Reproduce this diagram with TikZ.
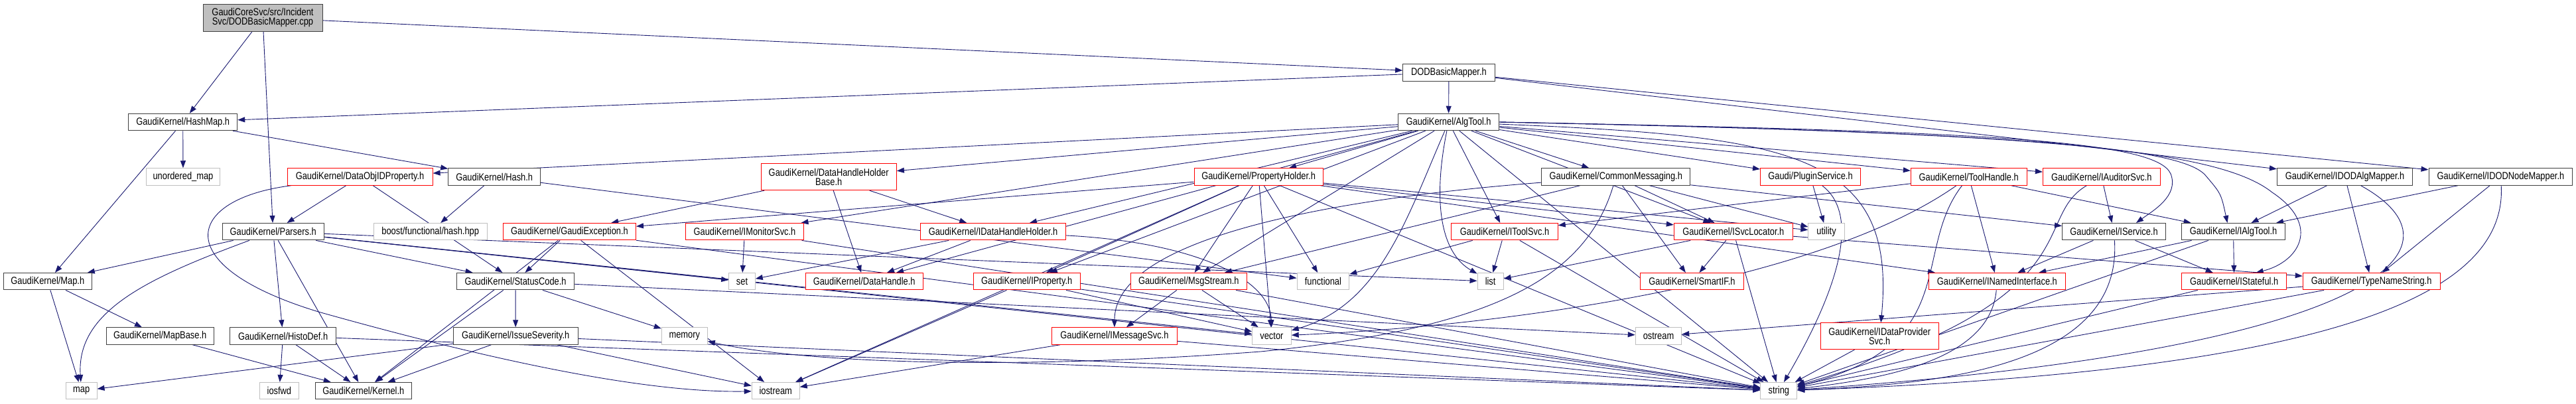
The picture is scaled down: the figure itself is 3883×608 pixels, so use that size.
\documentclass[tikz,border=0pt]{standalone}
\usepackage{fontspec}
\newfontfamily\dfont[FakeStretch=0.83]{Liberation Sans}
\usetikzlibrary{arrows.meta,backgrounds}
\definecolor{edgeblue}{RGB}{25,25,112}
\definecolor{sysgray}{RGB}{191,191,191}
\definecolor{truncred}{RGB}{255,0,0}
\definecolor{hdrgray}{RGB}{64,64,64}
\tikzset{
  box/.style={draw=hdrgray, line width=1pt, fill=white, inner xsep=2pt, inner ysep=0pt,
    minimum height=25.5pt, font=\dfont\fontsize{15.5}{14}\selectfont, align=center, text=black},
  hdr/.style={box},
  truncbox/.style={box, draw=truncred},
  sysbox/.style={box, draw=sysgray},
  rootbox/.style={box, fill=sysgray, minimum height=40.7pt},
  edge/.style={draw=edgeblue, line width=0.9pt, -{Triangle[length=11pt,width=8pt]}},
}
\begin{document}
\begin{tikzpicture}[x=1pt,y=-1pt]
\useasboundingbox (0,0) rectangle (3883,608);
% rank 1-2
\node[rootbox, minimum width=180pt] (root) at (396,26.7) {GaudiCoreSvc/src/Incident\\Svc/DODBasicMapper.cpp};
\node[hdr, minimum width=138.5pt] (dbmh) at (2183.9,109.3) {DODBasicMapper.h};
% rank 3
\node[hdr, minimum width=164pt] (hashmap) at (275.7,184) {GaudiKernel/HashMap.h};
\node[hdr, minimum width=152.4pt] (algtool) at (2183.6,184) {GaudiKernel/AlgTool.h};
% rank 4
\node[sysbox, minimum width=110.7pt] (umap) at (276,266.5) {unordered\_map};
\node[truncbox, minimum width=219pt] (doidp) at (542.6,266.5) {GaudiKernel/DataObjIDProperty.h};
\node[hdr, minimum width=139pt] (hash) at (745.2,266.5) {GaudiKernel/Hash.h};
\node[truncbox, minimum width=204.3pt, minimum height=40pt] (dhhb) at (1249.2,266.7) {GaudiKernel/DataHandleHolder\\Base.h};
\node[truncbox, minimum width=194pt] (propholder) at (1897.1,266.5) {GaudiKernel/PropertyHolder.h};
\node[hdr, minimum width=224pt] (commsg) at (2435.8,266.5) {GaudiKernel/CommonMessaging.h};
\node[truncbox, minimum width=151pt] (plugin) at (2729,266.5) {Gaudi/PluginService.h};
\node[truncbox, minimum width=174.7pt] (toolhandle) at (2967.7,266.5) {GaudiKernel/ToolHandle.h};
\node[truncbox, minimum width=176.8pt] (iaud) at (3167.8,266.5) {GaudiKernel/IAuditorSvc.h};
\node[hdr, minimum width=204.3pt] (idodalg) at (3534.6,266.5) {GaudiKernel/IDODAlgMapper.h};
\node[hdr, minimum width=216.8pt] (idodnode) at (3769.4,266.5) {GaudiKernel/IDODNodeMapper.h};
% rank 5
\node[hdr, minimum width=153pt] (parsers) at (411.7,349.2) {GaudiKernel/Parsers.h};
\node[sysbox, minimum width=171pt] (boosthash) at (648.7,349.2) {boost/functional/hash.hpp};
\node[truncbox, minimum width=200pt] (gexc) at (858.5,349.2) {GaudiKernel/GaudiException.h};
\node[truncbox, minimum width=178.9pt] (imon) at (1122.5,349.2) {GaudiKernel/IMonitorSvc.h};
\node[truncbox, minimum width=218.9pt] (idhh) at (1497,349.2) {GaudiKernel/IDataHandleHolder.h};
\node[truncbox, minimum width=160.4pt] (itoolsvc) at (2268,349.2) {GaudiKernel/IToolSvc.h};
\node[truncbox, minimum width=179pt] (isvcloc) at (2612.8,349.2) {GaudiKernel/ISvcLocator.h};
\node[sysbox, minimum width=54.3pt] (utility) at (2753,349.2) {utility};
\node[hdr, minimum width=156pt] (iservice) at (3186.5,349.2) {GaudiKernel/IService.h};
\node[hdr, minimum width=156.2pt] (ialgtool) at (3366.5,349.2) {GaudiKernel/IAlgTool.h};
% rank 6
\node[hdr, minimum width=133.4pt] (maph) at (71.8,424.2) {GaudiKernel/Map.h};
\node[hdr, minimum width=177.6pt] (statuscode) at (777.1,424.2) {GaudiKernel/StatusCode.h};
\node[sysbox, minimum width=39.6pt] (set) at (1118.5,424.2) {set};
\node[truncbox, minimum width=177.3pt] (datahandle) at (1302.7,424.2) {GaudiKernel/DataHandle.h};
\node[truncbox, minimum width=161.2pt] (iprop) at (1547.7,424.2) {GaudiKernel/IProperty.h};
\node[truncbox, minimum width=174.7pt] (msgstream) at (1791.8,424.2) {GaudiKernel/MsgStream.h};
\node[sysbox, minimum width=78.7pt] (functional) at (1994.4,424.2) {functional};
\node[sysbox, minimum width=39.1pt] (list) at (2246.6,424.2) {list};
\node[truncbox, minimum width=155.4pt] (smartif) at (2550.5,424.2) {GaudiKernel/SmartIF.h};
\node[truncbox, minimum width=205.4pt] (inamed) at (3010.4,424.2) {GaudiKernel/INamedInterface.h};
\node[truncbox, minimum width=157.8pt] (istateful) at (3367.7,424.2) {GaudiKernel/IStateful.h};
\node[truncbox, minimum width=206.7pt] (typename) at (3574.6,424.2) {GaudiKernel/TypeNameString.h};
% rank 7
\node[hdr, minimum width=162.4pt] (mapbase) at (241.2,506.5) {GaudiKernel/MapBase.h};
\node[hdr, minimum width=160.4pt] (histodef) at (426.6,506.5) {GaudiKernel/HistoDef.h};
\node[hdr, minimum width=187.7pt] (issue) at (777.2,506.5) {GaudiKernel/IssueSeverity.h};
\node[sysbox, minimum width=69pt] (memory) at (1031.8,506.5) {memory};
\node[truncbox, minimum width=188.2pt] (imsgsvc) at (1679.9,506.5) {GaudiKernel/IMessageSvc.h};
\node[sysbox, minimum width=58.5pt] (vector) at (1916.9,506.5) {vector};
\node[sysbox, minimum width=69.5pt] (ostream) at (2500,506.5) {ostream};
\node[truncbox, minimum width=177.6pt, minimum height=40pt] (idps) at (2833.2,506.7) {GaudiKernel/IDataProvider\\Svc.h};
% rank 8
\node[sysbox, minimum width=46.7pt] (map) at (122.7,589.2) {map};
\node[sysbox, minimum width=59.8pt] (iosfwd) at (420.9,589.2) {iosfwd};
\node[hdr, minimum width=145.2pt] (kernel) at (547.8,589.2) {GaudiKernel/Kernel.h};
\node[sysbox, minimum width=72pt] (iostream) at (1169.2,589.2) {iostream};
\node[sysbox, minimum width=54.7pt] (string) at (2681.3,589.2) {string};

\begin{pgfonlayer}{background}
\foreach \a/\b in {root/hashmap, root/parsers, root/dbmh,
  dbmh/hashmap, dbmh/algtool, dbmh/idodalg, dbmh/idodnode,
  hashmap/umap, hashmap/hash, hashmap/maph,
  hash/boosthash, hash/functional,
  maph/mapbase, maph/map, mapbase/kernel,
  parsers/maph, parsers/histodef, parsers/statuscode, parsers/kernel,
  parsers/set, parsers/list, parsers/vector, parsers/string,
  histodef/iosfwd, histodef/kernel, histodef/string,
  statuscode/issue, statuscode/memory, statuscode/kernel, statuscode/ostream,
  issue/map, issue/kernel, issue/iostream, issue/string,
  doidp/parsers, doidp/statuscode,
  gexc/statuscode, gexc/kernel, gexc/iostream, gexc/string,
  imon/set, imon/string,
  dhhb/gexc, dhhb/idhh, dhhb/datahandle,
  idhh/datahandle, idhh/set,
  propholder/gexc, propholder/iprop, propholder/msgstream, propholder/vector,
  propholder/functional, propholder/iostream, propholder/string, propholder/isvcloc,
  propholder/utility, propholder/inamed,
  algtool/doidp, algtool/dhhb, algtool/propholder, algtool/commsg, algtool/plugin,
  algtool/toolhandle, algtool/iaud, algtool/imon, algtool/idhh, algtool/datahandle,
  algtool/iprop, algtool/itoolsvc,
  algtool/isvcloc, algtool/msgstream, algtool/string,
  commsg/msgstream, commsg/isvcloc, commsg/smartif, commsg/utility, commsg/iservice,
  isvcloc/list, isvcloc/smartif, isvcloc/string, isvcloc/typename,
  itoolsvc/list, itoolsvc/functional, itoolsvc/string,
  toolhandle/itoolsvc, toolhandle/inamed, toolhandle/ialgtool,
  iaud/iservice, plugin/utility,
  iservice/inamed, iservice/istateful,
  ialgtool/inamed, ialgtool/istateful, ialgtool/string,
  istateful/string, typename/string, typename/ostream,
  idodalg/ialgtool, idodalg/typename,
  idodnode/ialgtool, idodnode/typename,
  idps/string,
  msgstream/imsgsvc, msgstream/vector, msgstream/string,
  iprop/iostream, iprop/string, iprop/vector,
  imsgsvc/iostream, imsgsvc/string}
  \draw[edge] (\a) -- (\b);
% curved connectors
\draw[edge] (doidp) .. controls (280,300) and (250,400) .. (480,470) .. controls (800,560) and (1000,592) .. (iostream);
\draw[edge] (parsers) .. controls (220,420) and (115,470) .. (map);
\draw[edge] (commsg) .. controls (2000,300) and (1680,360) .. (imsgsvc);
\draw[edge] (commsg) .. controls (2390,420) and (2250,495) .. (1900,530) .. controls (1500,560) and (1200,545) .. (memory);
\draw[edge] (algtool) .. controls (2700,205) and (2860,230) .. (idps);
\draw[edge] (algtool) .. controls (2160,300) and (2170,380) .. (list);
\draw[edge] (algtool) .. controls (2120,330) and (2080,460) .. (vector);
\draw[edge] (algtool.east) .. controls (3000,198) and (3250,212) .. (3272,262) .. controls (3285,295) and (3245,318) .. ([xshift=-45pt]iservice.north east);
\draw[edge] (algtool.east) .. controls (3050,200) and (3290,222) .. (3325,265) .. controls (3348,292) .. ([xshift=-9pt]ialgtool.north);
\draw[edge] (algtool.east) .. controls (3050,200) and (3340,222) .. (3425,290) .. controls (3500,340) and (3465,395) .. ([xshift=33pt]istateful.north);
\draw[edge] (idhh) .. controls (1800,365) and (1915,420) .. (vector);
\draw[edge] (toolhandle) .. controls (2750,420) and (2300,490) .. (vector);
\draw[edge] (idodnode) .. controls (3780,450) and (3500,560) .. (string);
\draw[edge] (idodalg) .. controls (3740,380) and (3560,530) .. (string);
\draw[edge] (iaud) .. controls (3060,330) and (3160,450) .. (string);
\draw[edge] (toolhandle) .. controls (2880,380) and (2960,520) .. (string);
\draw[edge] (iservice) .. controls (3200,560) and (2900,580) .. (string);
\draw[edge] (inamed) .. controls (3000,540) and (2850,570) .. (string);
\draw[edge] (plugin) .. controls (2800,320) and (2780,420) .. (string);
\end{pgfonlayer}
\end{tikzpicture}
\end{document}
